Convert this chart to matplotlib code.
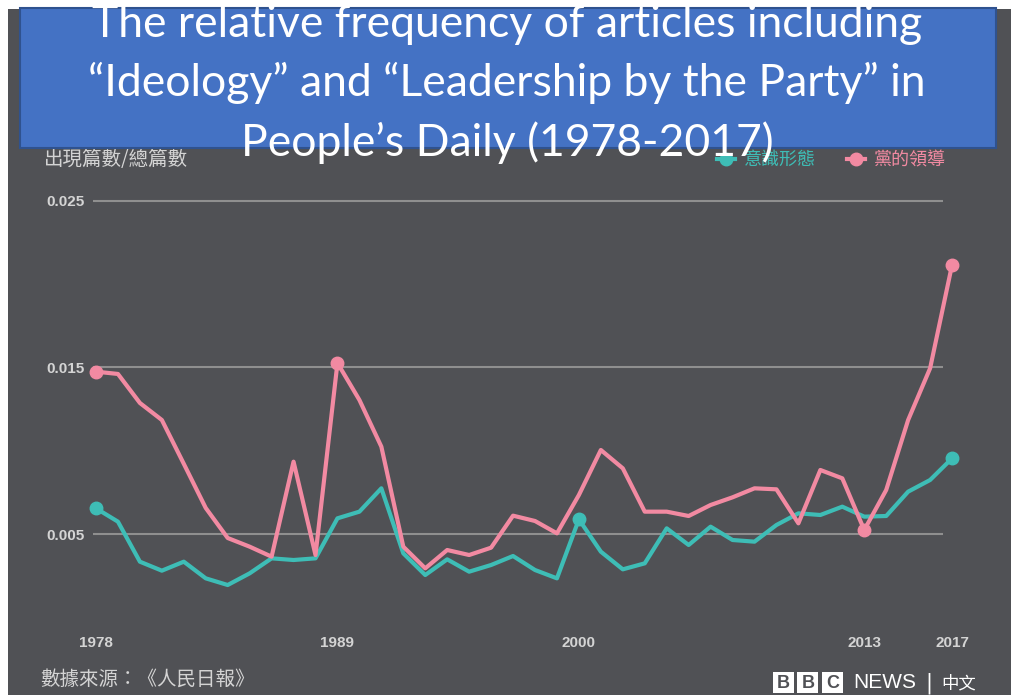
import matplotlib
matplotlib.use("Agg")
import matplotlib.pyplot as plt
from matplotlib.lines import Line2D
from matplotlib.patches import Rectangle

# data
years = [1978, 1979, 1980, 1981, 1982, 1983, 1984, 1985, 1986, 1987,
         1988, 1989, 1990, 1991, 1992, 1993, 1994, 1995, 1996, 1997,
         1998, 1999, 2000, 2001, 2002, 2003, 2004, 2005, 2006, 2007,
         2008, 2009, 2010, 2011, 2012, 2013, 2014, 2015, 2016, 2017]
ideology = [0.00654, 0.00574, 0.00334, 0.00280, 0.00334, 0.00234, 0.00194, 0.00264, 0.00354, 0.00344,
            0.00354, 0.00594, 0.00634, 0.00774, 0.00384, 0.00254, 0.00348, 0.00274, 0.00314, 0.00368,
            0.00284, 0.00234, 0.00588, 0.00394, 0.00288, 0.00324, 0.00534, 0.00434, 0.00544, 0.00464,
            0.00454, 0.00554, 0.00624, 0.00614, 0.00664, 0.00604, 0.00608, 0.00754, 0.00824, 0.00954]
party = [0.01474, 0.01460, 0.01286, 0.01184, 0.00921, 0.00656, 0.00476, 0.00424, 0.00364, 0.00934,
         0.00374, 0.01526, 0.01304, 0.01024, 0.00424, 0.00294, 0.00404, 0.00374, 0.00418, 0.00610,
         0.00578, 0.00504, 0.00734, 0.01004, 0.00894, 0.00634, 0.00634, 0.00608, 0.00674, 0.00720,
         0.00774, 0.00768, 0.00564, 0.00884, 0.00834, 0.00524, 0.00764, 0.01184, 0.01494, 0.02114]
ideology_dots = [1978, 2000, 2017]
party_dots = [1978, 1989, 2013, 2017]
series_names = ["意識形態", "黨的領導"]
yticks = [0.005, 0.015, 0.025]
xticks = [1978, 1989, 2000, 2013, 2017]

title = ("The relative frequency of articles including\n"
         "\u201cIdeology\u201d and \u201cLeadership by the Party\u201d in\n"
         "People\u2019s Daily (1978-2017)")

W, H = 1012, 695
bg = "#505155"
teal = "#3ebdb6"
pink = "#f28aa2"
light = "#d4d4d4"
cjk = ["Noto Sans CJK TC", "DejaVu Sans"]
tick_font = dict(family="Liberation Sans", fontweight="bold", fontsize=11, color=light)


def fx(px):
    return px / W


def fy(py):
    return 1 - py / H


fig = plt.figure(figsize=(W / 100, H / 100), dpi=100)
fig.patch.set_facecolor("white")
fig.patches.append(Rectangle((fx(8), 0), 1 - fx(8), fy(9), transform=fig.transFigure,
                             facecolor=bg, edgecolor="none", zorder=-1))

# axes: pixel box 93..943 x, 185..620 y (the 2017 end sticks out past the grid)
ax = fig.add_axes([fx(93), fy(620), fx(943) - fx(93), fy(185) - fy(620)])
ax.set_facecolor("none")
for s in ax.spines.values():
    s.set_visible(False)

px_per_year = 21.95
px_per_unit = 16670
ax.set_xlim(1978 - 3 / px_per_year, 1978 + 847 / px_per_year)
ax.set_ylim(0.005 - 86 / px_per_unit, 0.005 + 349 / px_per_unit)

ax.set_yticks(yticks)
ax.set_yticklabels(["%.3f" % v for v in yticks], **tick_font)
ax.set_xticks([])
ax.tick_params(length=0)
ax.tick_params(axis="y", pad=6)
ax.yaxis.grid(True, color="#8f8f8f", lw=1.5)
ax.set_axisbelow(True)

# year labels as text: 2017 lies just past the grid's right end
xlab_y = 0.005 - 109 / px_per_unit
for yr in xticks:
    ax.text(yr, xlab_y, str(yr), ha="center", va="center", clip_on=False, **tick_font)

ax.plot(years, ideology, color=teal, lw=3, marker="o", ms=9,
        markevery=[years.index(y) for y in ideology_dots], clip_on=False, zorder=3)
ax.plot(years, party, color=pink, lw=3, marker="o", ms=9,
        markevery=[years.index(y) for y in party_dots], clip_on=False, zorder=4)

# y label and legend
fig.text(fx(44), fy(160), "出現篇數/總篇數", family=cjk, fontsize=14, color=light,
         va="center", ha="left")
handles = [Line2D([0], [0], color=teal, lw=3, marker="o", ms=9),
           Line2D([0], [0], color=pink, lw=3, marker="o", ms=9)]
fig.legend(handles, series_names, loc="center right", bbox_to_anchor=(fx(962), fy(160)),
           ncol=2, frameon=False, handlelength=1.0, handletextpad=0.5, columnspacing=1.7,
           labelcolor=[teal, pink], prop={"family": cjk, "size": 13})

# source and logo
fig.text(fx(40), fy(679), "數據來源：《人民日報》", family=cjk, fontsize=14, color=light,
         va="center", ha="left")
for i, letter in enumerate("BBC"):
    x0 = 773 + i * 24.5
    fig.patches.append(Rectangle((fx(x0), fy(693)), fx(21), fy(672) - fy(693),
                                 transform=fig.transFigure, facecolor="white",
                                 edgecolor="none", zorder=2))
    fig.text(fx(x0 + 10.5), fy(683), letter, family="Liberation Sans", fontweight="bold",
             fontsize=13, color=bg, ha="center", va="center", zorder=3)
fig.text(fx(853), fy(683), "NEWS", family="Liberation Sans", fontsize=15, color="white",
         ha="left", va="center")
fig.text(fx(929), fy(683), "|", family="DejaVu Sans", fontsize=15, color="white",
         ha="center", va="center")
fig.text(fx(941), fy(683), "中文", family=cjk, fontsize=12.5, color="white",
         ha="left", va="center")

# title box
fig.patches.append(Rectangle((fx(20), fy(148)), fx(996) - fx(20), fy(8) - fy(148),
                             transform=fig.transFigure, facecolor="#4472c4",
                             edgecolor="#2f528f", lw=1.5, zorder=5))
fig.text(fx(507), fy(84), title, family="Lato", fontsize=32, color="white",
         ha="center", va="center", linespacing=1.5, zorder=6)

fig.savefig("out.png", dpi=100)
